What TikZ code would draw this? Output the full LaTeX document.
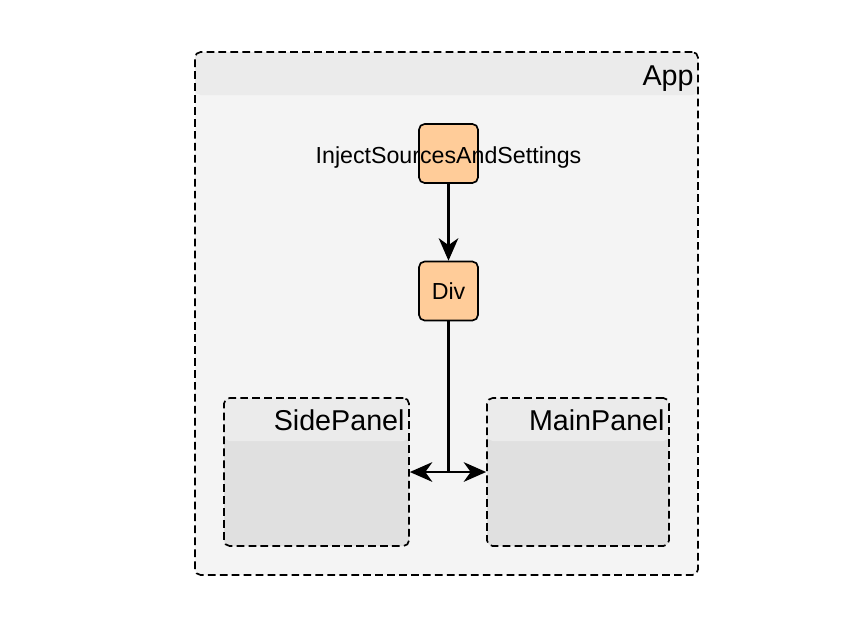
\documentclass[tikz,border=0pt]{standalone}
\usepackage{fontspec}
\setmainfont{Liberation Sans}
\usetikzlibrary{arrows.meta,positioning}
\definecolor{bodygray}{HTML}{F4F4F4}
\definecolor{headgray}{HTML}{EBEBEB}
\definecolor{panelgray}{HTML}{E0E0E0}
\definecolor{compfill}{HTML}{FFCC99}
\begin{document}
\begin{tikzpicture}[
  x=0.025cm, y=-0.025cm,
  group/.style={rectangle, draw, line width=1.2pt, dash pattern=on 5.5pt off 3pt,
    rounded corners=4pt, inner sep=0pt,
    path picture={\fill[headgray] (path picture bounding box.north west)
      rectangle ([yshift=-43*0.025cm]path picture bounding box.north east);}},
  comp/.style={rectangle, draw, line width=1.2pt, rounded corners=4pt, fill=compfill,
    minimum width=59*0.025cm, minimum height=59*0.025cm, inner sep=0pt,
    font=\fontsize{16.5}{19}\selectfont},
  title/.style={anchor=base east, inner sep=0pt, font=\fontsize{20.4}{24}\selectfont},
  arr/.style={-{Stealth[length=16pt, width=14pt, inset=5pt]}, line width=1.5pt}
]
\useasboundingbox (0,0) rectangle (861,640);

% containers
\node[group, fill=bodygray, minimum width=503*0.025cm, minimum height=523*0.025cm] (app) at (446.5,313.5) {};
\node[group, fill=panelgray, minimum width=185*0.025cm, minimum height=148*0.025cm] (side) at (316.5,472) {};
\node[group, fill=panelgray, minimum width=182*0.025cm, minimum height=148*0.025cm] (main) at (578,472) {};

\node[title] (applbl) at ([xshift=-5*0.025cm, yshift=-34*0.025cm]app.north east) {App};
\node[title] (sidelbl) at ([xshift=-5*0.025cm, yshift=-33*0.025cm]side.north east) {SidePanel};
\node[title] (mainlbl) at ([xshift=-5*0.025cm, yshift=-33*0.025cm]main.north east) {MainPanel};

% components
\node[comp] (inject) at (448.5,153.5) {\raisebox{-0.245cm}[0pt][0pt]{\makebox[0pt]{InjectSourcesAndSettings}}};
\node[comp] (div) at (448.5,291) {Div};

\draw[arr] (inject) -- (div);
\draw[arr] (div.south) |- (side.east);
\draw[arr] (div.south) |- (main.west);
\end{tikzpicture}
\end{document}
